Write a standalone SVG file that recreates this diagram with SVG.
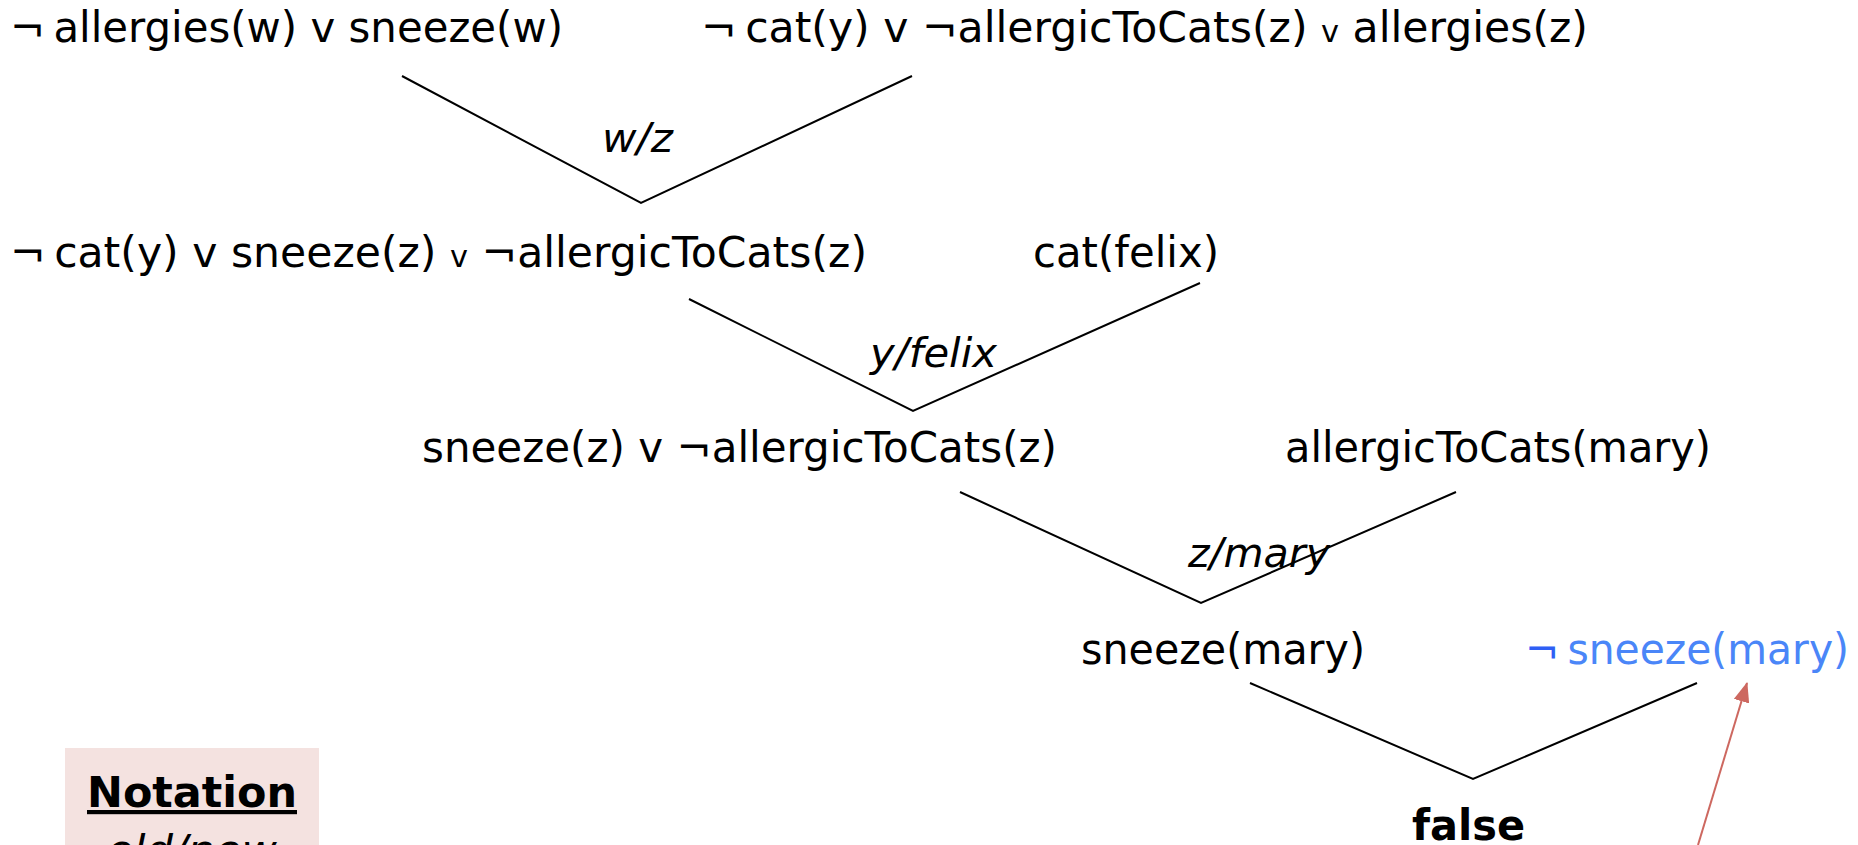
<svg xmlns="http://www.w3.org/2000/svg" width="1858" height="845" viewBox="0 0 1858 845">
<style>
.t{font-family:"DejaVu Sans","Liberation Sans",sans-serif;font-size:42px;fill:#000}
.sm{font-size:30px}
.lbl{font-family:"DejaVu Sans","Liberation Sans",sans-serif;font-size:40px;font-style:italic;fill:#000}
.b{font-weight:bold}
.blue{fill:#4a86f8}
.neg{fill:#2f5ff5}
.edge{stroke:#000;stroke-width:2;fill:none}
.red{stroke:#cd6860;stroke-width:2;fill:none}
</style>
<defs>
<marker id="ah" markerUnits="userSpaceOnUse" markerWidth="20" markerHeight="16" refX="19" refY="8" orient="auto">
<path d="M0,0 L20,8 L0,16 Z" fill="#cd6860"/>
</marker>
</defs>
<rect width="1858" height="845" fill="#fff"/>
<g id="n1"><text class="t" x="10" y="42" textLength="553" lengthAdjust="spacingAndGlyphs">¬&#8201;allergies(w) v sneeze(w)</text></g>
<g id="n2"><text class="t" x="701" y="42" textLength="887" lengthAdjust="spacingAndGlyphs">¬&#8201;cat(y) v ¬allergicToCats(z) <tspan class="sm">v</tspan> allergies(z)</text></g>
<g id="n3"><text class="t" x="10" y="267" textLength="857" lengthAdjust="spacingAndGlyphs">¬&#8201;cat(y) v sneeze(z) <tspan class="sm">v</tspan> ¬allergicToCats(z)</text></g>
<g id="n4"><text class="t" x="1033" y="267" textLength="186" lengthAdjust="spacingAndGlyphs">cat(felix)</text></g>
<g id="n5"><text class="t" x="422" y="462" textLength="635" lengthAdjust="spacingAndGlyphs">sneeze(z) v ¬allergicToCats(z)</text></g>
<g id="n6"><text class="t" x="1285" y="462" textLength="426" lengthAdjust="spacingAndGlyphs">allergicToCats(mary)</text></g>
<g id="n7"><text class="t" x="1081" y="664" textLength="284" lengthAdjust="spacingAndGlyphs">sneeze(mary)</text></g>
<g id="n8"><text class="t blue" x="1525" y="664" textLength="324" lengthAdjust="spacingAndGlyphs"><tspan class="neg">¬</tspan>&#8201;sneeze(mary)</text></g>
<g id="n9"><text class="t b" x="1412" y="840" textLength="113" lengthAdjust="spacingAndGlyphs">false</text></g>
<g id="notation">
<rect x="65" y="748" width="254" height="110" fill="#f4e2e0"/>
<text class="t b" x="87" y="807" textLength="210" lengthAdjust="spacingAndGlyphs" text-decoration="underline">Notation</text>
<text class="lbl" x="107" y="864" textLength="170" lengthAdjust="spacingAndGlyphs">old/new</text>
</g>
<g id="connectors">
<polyline class="edge" points="402,76 641,203 912,76"/>
<polyline class="edge" points="689,299 913,411 1200,283"/>
<polyline class="edge" points="960,492 1201,603 1456,492"/>
<polyline class="edge" points="1250,683 1473,779 1697,683"/>
<text class="lbl" x="602" y="152" textLength="71" lengthAdjust="spacingAndGlyphs">w/z</text>
<text class="lbl" x="870" y="367" textLength="127" lengthAdjust="spacingAndGlyphs">y/felix</text>
<text class="lbl" x="1188" y="567" textLength="142" lengthAdjust="spacingAndGlyphs">z/mary</text>
<line class="red" x1="1698" y1="845" x2="1747" y2="683" marker-end="url(#ah)"/>
</g>
</svg>
